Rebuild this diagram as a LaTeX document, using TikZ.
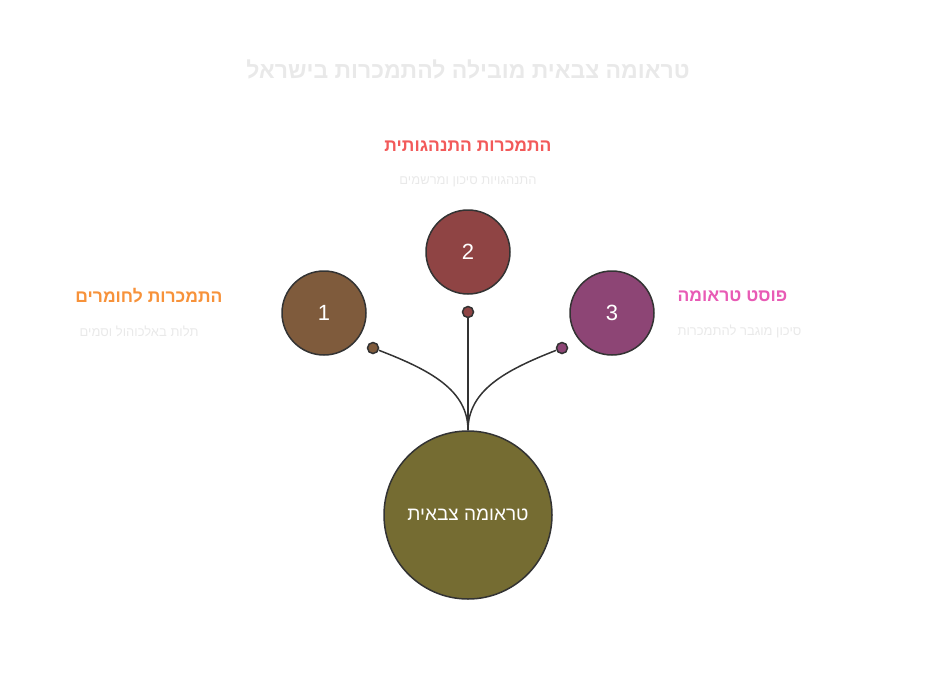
\documentclass[tikz,border=0pt]{standalone}
\usepackage{fontspec}
\setmainfont{Liberation Sans}
\newfontfamily\hebfont[Script=Hebrew]{Liberation Sans}
\TeXXeTstate=1
\usetikzlibrary{positioning}
\definecolor{brownnode}{HTML}{7F5B3C}
\definecolor{rednode}{HTML}{8F4444}
\definecolor{pinknode}{HTML}{8D4575}
\definecolor{olivenode}{HTML}{756C32}
\definecolor{orangetxt}{HTML}{F7923A}
\definecolor{redtxt}{HTML}{F25A5A}
\definecolor{pinktxt}{HTML}{E85BB5}
\definecolor{faint}{HTML}{E9E9E9}
\newcommand{\heb}[1]{{\hebfont\beginR #1\endR}}

\begin{document}
\begin{tikzpicture}[x=1pt, y=-1pt,
  numcirc/.style={draw=black!80, line width=1.5pt, circle, minimum size=84pt, inner sep=0pt,
               text=white, font=\fontsize{22}{24}\selectfont},
  dot/.style={draw=black!80, line width=1.5pt, circle, minimum size=11pt, inner sep=0pt},
  headtxt/.style={font=\fontsize{17.5}{20}\selectfont\bfseries},
  subtxt/.style={font=\fontsize{13}{15}\selectfont, text=faint},
  link/.style={line width=1.5pt, black!80}
]
  \useasboundingbox (0,0) rectangle (936,675);
  \node[font=\fontsize{23}{26}\selectfont\bfseries, text=faint] (title) at (468,69) {\heb{טראומה צבאית מובילה להתמכרות בישראל}};

  \node[draw=black!80, line width=1.5pt, circle, minimum size=168pt, inner sep=0pt, fill=olivenode,
        text=white, font=\fontsize{19}{22}\selectfont] (trauma) at (468,515) {\heb{טראומה צבאית}};

  \node[numcirc, fill=brownnode] (c1) at (324,313) {1};
  \node[numcirc, fill=rednode] (c2) at (468,252) {2};
  \node[numcirc, fill=pinknode] (c3) at (612,313) {3};

  \node[dot, fill=brownnode] (d1) at (373,348) {};
  \node[dot, fill=rednode] (d2) at (468,312) {};
  \node[dot, fill=pinknode] (d3) at (562,348) {};

  \draw[link] (trauma.north) .. controls (468,390) and (430,370) .. (d1);
  \draw[link] (trauma.north) -- (d2);
  \draw[link] (trauma.north) .. controls (468,390) and (506,370) .. (d3);

  \node[headtxt, text=orangetxt, anchor=east] (h1) at (226,296) {\heb{התמכרות לחומרים}};
  \node[subtxt, anchor=east] (s1) at (202,331) {\heb{תלות באלכוהול וסמים}};
  \node[headtxt, text=redtxt] (h2) at (468,146) {\heb{התמכרות התנהגותית}};
  \node[subtxt] (s2) at (468,182) {\heb{התנהגויות סיכון ומרשמים}};
  \node[headtxt, text=pinktxt, anchor=west] (h3) at (674,296) {\heb{פוסט טראומה}};
  \node[subtxt, anchor=west] (s3) at (674,331) {\heb{סיכון מוגבר להתמכרות}};
\end{tikzpicture}
\end{document}
